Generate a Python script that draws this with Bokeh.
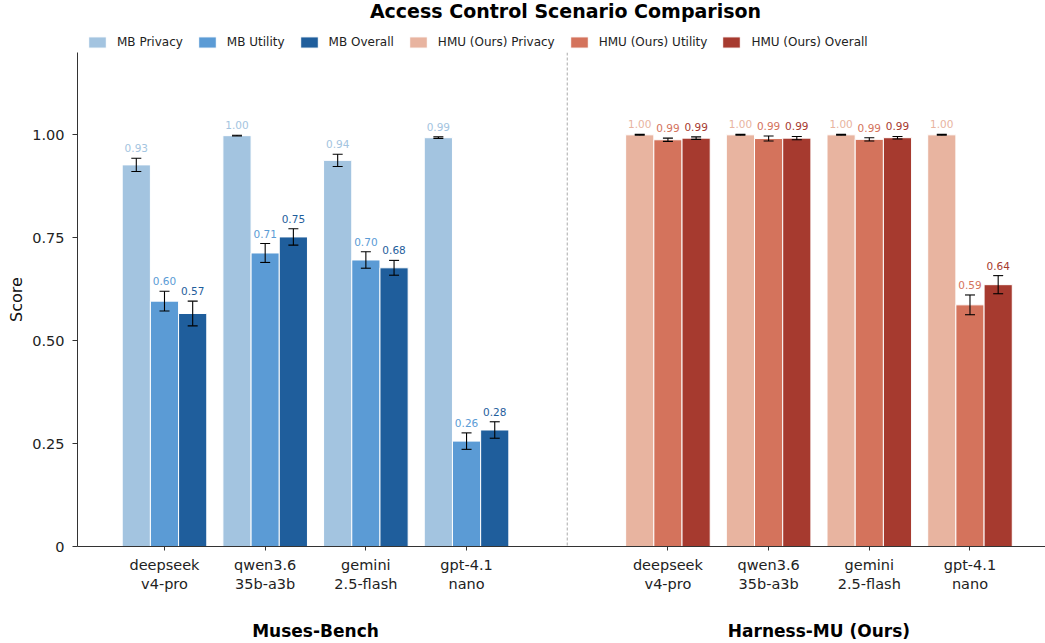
from bokeh.plotting import figure
from bokeh.layouts import column
from bokeh.core.properties import value
from bokeh.models import (ColumnDataSource, Whisker, TeeHead, Legend, LegendItem,
                          LinearAxis, FixedTicker, Span, Range1d, Label)
from bokeh.embed import file_html
from bokeh.resources import INLINE

# ---- data -------------------------------------------------------------
models = ["deepseek\nv4-pro", "qwen3.6\n35b-a3b", "gemini\n2.5-flash", "gpt-4.1\nnano"]
benchmarks = ["Muses-Bench", "Harness-MU (Ours)"]

mb_privacy = [0.927, 0.998, 0.938, 0.993]
mb_privacy_err = [0.016, 0.001, 0.015, 0.002]
mb_utility = [0.596, 0.713, 0.696, 0.256]
mb_utility_err = [0.024, 0.023, 0.020, 0.020]
mb_overall = [0.566, 0.752, 0.677, 0.283]
mb_overall_err = [0.030, 0.020, 0.018, 0.020]

hmu_privacy = [1.000, 1.000, 1.000, 1.000]
hmu_privacy_err = [0.001, 0.001, 0.001, 0.001]
hmu_utility = [0.988, 0.991, 0.989, 0.587]
hmu_utility_err = [0.004, 0.006, 0.004, 0.024]
hmu_overall = [0.992, 0.992, 0.993, 0.636]
hmu_overall_err = [0.003, 0.004, 0.003, 0.022]

FONT = "DejaVu Sans"
TITLE = "Access Control Scenario Comparison"

series = [
    ("MB Privacy", 0, mb_privacy, mb_privacy_err, "#a3c4e0"),
    ("MB Utility", 0, mb_utility, mb_utility_err, "#5b9bd5"),
    ("MB Overall", 0, mb_overall, mb_overall_err, "#1f5e9c"),
    ("HMU (Ours) Privacy", 1, hmu_privacy, hmu_privacy_err, "#e8b4a0"),
    ("HMU (Ours) Utility", 1, hmu_utility, hmu_utility_err, "#d4735c"),
    ("HMU (Ours) Overall", 1, hmu_overall, hmu_overall_err, "#a63a2f"),
]

group_start = [0, 5]          # first model slot of each benchmark block
bar_w = 0.28
offsets = [-bar_w, 0.0, bar_w]

x_range = Range1d(-0.864, 8.75)

# ---- header: title + legend row ---------------------------------------
head = figure(width=1045, height=52, output_backend="svg", toolbar_location=None,
              x_range=x_range, y_range=Range1d(0, 1),
              min_border_left=77, min_border_right=0, min_border_top=0,
              min_border_bottom=0)
head.title = None
head.xaxis.visible = False
head.yaxis.visible = False
head.xgrid.visible = False
head.ygrid.visible = False
head.outline_line_color = None
head.background_fill_color = "white"
head.border_fill_color = "white"

head.add_layout(Label(x=(x_range.start + x_range.end) / 2, y=1, x_offset=4, y_offset=1,
                      text=TITLE, text_align="center", text_baseline="top",
                      text_font=FONT, text_font_size="19px", text_font_style="bold",
                      text_color="black"))

# ---- main plot ---------------------------------------------------------
p = figure(width=1045, height=591, output_backend="svg", toolbar_location=None,
           x_range=x_range, y_range=Range1d(0, 1.2),
           min_border_left=77, min_border_right=0, min_border_bottom=97,
           min_border_top=0)
p.title = None
p.outline_line_color = None
p.xgrid.visible = False
p.ygrid.visible = False
p.background_fill_color = "white"
p.border_fill_color = "white"

legend_items = []
for i, (name, g, vals, errs, color) in enumerate(series):
    xs = [group_start[g] + k + offsets[i % 3] for k in range(len(vals))]
    src = ColumnDataSource(dict(
        x=xs, top=vals,
        upper=[v + e for v, e in zip(vals, errs)],
        lower=[v - e for v, e in zip(vals, errs)],
        label=[f"{v:.2f}" for v in vals],
    ))
    p.vbar(x="x", top="top", width=bar_w, source=src, fill_color=color,
           line_color="white", line_width=1)
    w = Whisker(base="x", upper="upper", lower="lower", source=src,
                line_color="black", line_width=1.1, level="annotation",
                upper_head=TeeHead(size=10, line_color="black", line_width=1.1),
                lower_head=TeeHead(size=10, line_color="black", line_width=1.1))
    p.add_layout(w)
    p.text(x="x", y="upper", text="label", source=src, text_align="center",
           text_baseline="bottom", y_offset=-6, text_color=color,
           text_font=value(FONT), text_font_size="10.5px")
    # legend key for the header row: a zero-height bar, white on white
    swatch = head.vbar(x=[xs[0]], bottom=[0], top=[0], width=bar_w,
                       fill_color=color, line_color="white", line_width=1)
    legend_items.append(LegendItem(label=name, renderers=[swatch]))

legend = Legend(items=legend_items, orientation="horizontal", location=(9, 3),
                label_text_font=FONT, label_text_font_size="12px",
                label_text_color="#222222", label_height=14,
                glyph_width=22, glyph_height=14, label_standoff=9, spacing=13,
                padding=2, margin=0, border_line_color=None,
                background_fill_alpha=0)
head.add_layout(legend)

# separator between the two benchmarks
p.add_layout(Span(location=4, dimension="height", line_color="#aaaaaa",
                  line_width=1, line_dash="3 2"))

# y axis
p.yaxis.ticker = FixedTicker(ticks=[0, 0.25, 0.5, 0.75, 1.0])
p.yaxis.major_label_overrides = {0: "0", 0.25: "0.25", 0.5: "0.50", 0.75: "0.75", 1.0: "1.00"}
p.yaxis.axis_label = "Score"
p.yaxis.axis_label_text_font = FONT
p.yaxis.axis_label_text_font_size = "16px"
p.yaxis.axis_label_text_font_style = "normal"
p.yaxis.axis_label_text_color = "#111111"
p.yaxis.axis_label_standoff = 3
p.yaxis.major_label_text_font = FONT
p.yaxis.major_label_text_font_size = "14.5px"
p.yaxis.major_label_text_color = "#222222"
p.yaxis.major_tick_out = 5
p.yaxis.major_tick_in = 0
p.yaxis.minor_tick_line_color = None
p.yaxis.axis_line_color = "#333333"
p.yaxis.major_tick_line_color = "#333333"
p.yaxis.major_label_standoff = 8

# x axis: model names under each group
tick_pos = [group_start[g] + k for g in range(2) for k in range(len(models))]
p.xaxis.ticker = FixedTicker(ticks=tick_pos)
p.xaxis.major_label_overrides = {group_start[g] + k: models[k]
                                 for g in range(2) for k in range(len(models))}
p.xaxis.major_label_text_font = FONT
p.xaxis.major_label_text_font_size = "14.5px"
p.xaxis.major_label_text_color = "#222222"
p.xaxis.major_tick_out = 4
p.xaxis.major_tick_in = 0
p.xaxis.minor_tick_line_color = None
p.xaxis.axis_line_color = "#333333"
p.xaxis.major_tick_line_color = "#333333"
p.xaxis.major_label_standoff = 6

# benchmark names under each block
centers = [group_start[g] + (len(models) - 1) / 2 for g in range(2)]
bench_axis = LinearAxis(ticker=FixedTicker(ticks=centers),
                        major_label_overrides={c: b for c, b in zip(centers, benchmarks)},
                        axis_line_color=None, major_tick_line_color=None,
                        minor_tick_line_color=None, major_tick_out=0,
                        major_label_standoff=26,
                        major_label_text_font=FONT, major_label_text_font_size="17px",
                        major_label_text_font_style="bold",
                        major_label_text_color="black")
p.add_layout(bench_axis, "below")

layout = column(head, p, spacing=0)
open("out.html", "w").write(file_html(layout, INLINE))
